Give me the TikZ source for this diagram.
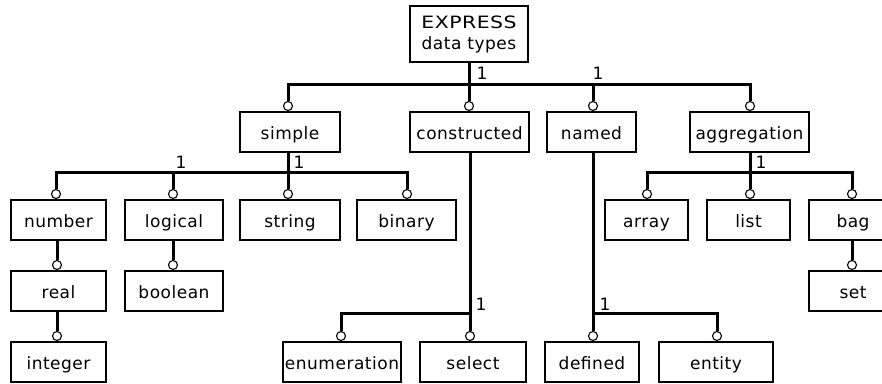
\documentclass[tikz,border=0pt]{standalone}
\usepackage{fontspec}
\setmainfont{DejaVu Sans}[LetterSpace=3]
\begin{document}
\begin{tikzpicture}[x=1pt,y=-1pt,
  box/.style={draw, line width=1.2pt, minimum height=40pt, inner sep=0pt,
    text height=16pt, text depth=2pt, font=\fontsize{17}{21}\selectfont},
  link/.style={line width=3pt, line join=miter},
  tip/.style={circle, draw, fill=white, line width=1.1pt, minimum size=9pt, inner sep=0pt},
  one/.style={inner sep=0pt, font=\fontsize{17}{19}\selectfont}]
\useasboundingbox (0,0) rectangle (882,383);
\clip (0,0) rectangle (882,383);

% boxes
\node[box, minimum width=118pt, minimum height=56pt, align=center, text height=, text depth=] (root) at (469,34)
  {{\addfontfeature{FakeStretch=1.2}EXPRESS}\\data types};
\node[box, minimum width=100pt] (simple) at (290,132) {simple};
\node[box, minimum width=119pt] (constructed) at (469.5,132) {constructed};
\node[box, minimum width=89pt] (named) at (591.5,132) {named};
\node[box, minimum width=119pt] (aggregation) at (749.5,132) {aggregation};

\node[box, minimum width=95pt] (number) at (58.5,220) {number};
\node[box, minimum width=98pt] (logical) at (174,220) {logical};
\node[box, minimum width=100pt] (string) at (290,220) {string};
\node[box, minimum width=99pt] (binary) at (406.5,220) {binary};
\node[box, minimum width=83pt] (array) at (646.5,220) {array};
\node[box, minimum width=83pt] (list) at (748.5,220) {list};
\node[box, minimum width=88pt] (bag) at (853,220) {bag};

\node[box, minimum width=95pt] (real) at (58.5,291) {real};
\node[box, minimum width=98pt] (boolean) at (174,291) {boolean};
\node[box, minimum width=88pt] (set) at (853,291) {set};

\node[box, minimum width=95pt] (integer) at (58.5,362) {integer};
\node[box, minimum width=118pt] (enumeration) at (342,362) {enumeration};
\node[box, minimum width=106pt] (select) at (473,362) {select};
\node[box, minimum width=94pt] (defined) at (592,362) {defined};
\node[box, minimum width=114pt] (entity) at (716,362) {entity};

% open circles on top of each child box
\node[tip] (t-simple) at (288,106) {};
\node[tip] (t-constructed) at (469,106) {};
\node[tip] (t-named) at (593,106) {};
\node[tip] (t-aggregation) at (750,106) {};
\node[tip] (t-number) at (56,194) {};
\node[tip] (t-logical) at (173,194) {};
\node[tip] (t-string) at (288,194) {};
\node[tip] (t-binary) at (407,194) {};
\node[tip] (t-array) at (647,194) {};
\node[tip] (t-list) at (750,194) {};
\node[tip] (t-bag) at (852,194) {};
\node[tip] (t-real) at (57,265) {};
\node[tip] (t-boolean) at (173,265) {};
\node[tip] (t-set) at (852,265) {};
\node[tip] (t-integer) at (57,336) {};
\node[tip] (t-enumeration) at (341,336) {};
\node[tip] (t-select) at (470,336) {};
\node[tip] (t-defined) at (593,336) {};
\node[tip] (t-entity) at (717,336) {};

% bus levels
\coordinate (bus1) at (0,84);
\coordinate (bus2) at (0,172);
\coordinate (bus3) at (0,313);

% EXPRESS data types -> simple, constructed, named, aggregation
\draw[link] (t-simple.north) -- (t-simple |- bus1) -- (t-aggregation |- bus1) -- (t-aggregation.north);
\draw[link] (root.south -| t-constructed) -- (t-constructed.north);
\draw[link] (t-named.north) -- (t-named |- bus1);

% simple -> number, logical, string, binary
\draw[link] (t-number.north) -- (t-number |- bus2) -- (t-binary |- bus2) -- (t-binary.north);
\draw[link] (simple.south -| t-string) -- (t-string.north);
\draw[link] (t-logical.north) -- (t-logical |- bus2);

% aggregation -> array, list, bag
\draw[link] (t-array.north) -- (t-array |- bus2) -- (t-bag |- bus2) -- (t-bag.north);
\draw[link] (aggregation.south -| t-list) -- (t-list.north);

% chains
\draw[link] (number.south -| t-real) -- (t-real.north);
\draw[link] (real.south -| t-integer) -- (t-integer.north);
\draw[link] (logical.south -| t-boolean) -- (t-boolean.north);
\draw[link] (bag.south -| t-set) -- (t-set.north);

% constructed -> enumeration, select
\draw[link] (t-enumeration.north) -- (t-enumeration |- bus3) -- (t-select |- bus3);
\draw[link] (constructed.south -| t-select) -- (t-select.north);

% named -> defined, entity
\draw[link] (named.south -| t-defined) -- (t-defined.north);
\draw[link] (t-defined |- bus3) -- (t-entity |- bus3) -- (t-entity.north);

% cardinality labels
\node[one] (l-root1) at (482,73) {1};
\node[one] (l-root2) at (598,73) {1};
\node[one] (l-simple1) at (181,162) {1};
\node[one] (l-simple2) at (299,162) {1};
\node[one] (l-aggr) at (761,162) {1};
\node[one] (l-constr) at (481,304) {1};
\node[one] (l-named) at (605,304) {1};
\end{tikzpicture}
\end{document}
